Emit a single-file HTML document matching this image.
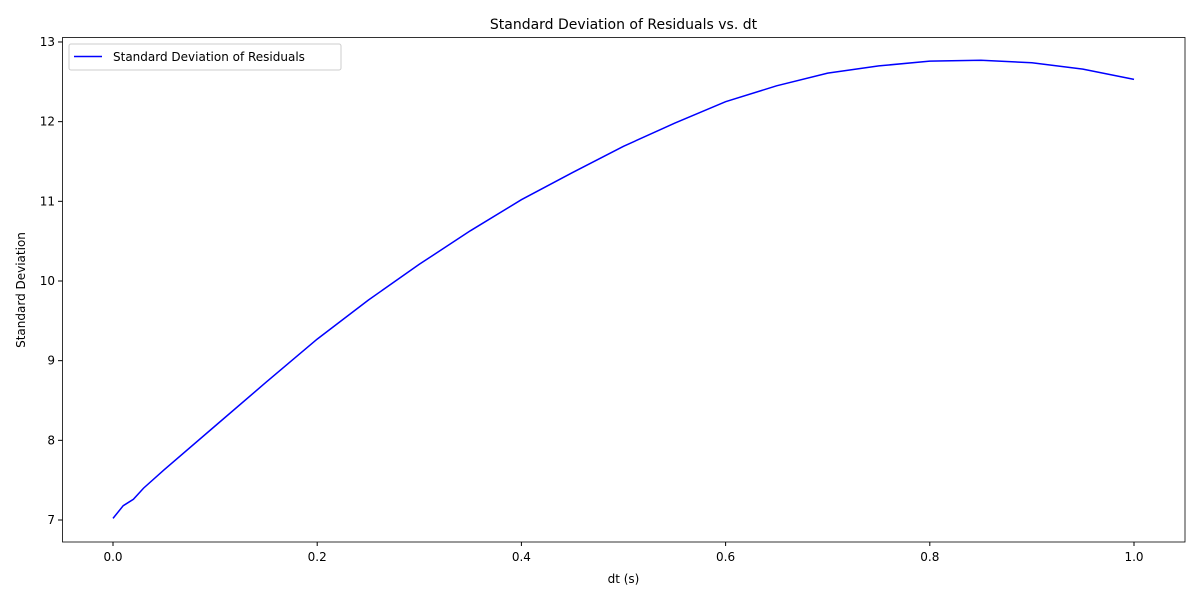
<!DOCTYPE html>
<html><head><meta charset="utf-8"><style>
body{margin:0;background:#fff;font-family:"Liberation Sans","DejaVu Sans",sans-serif;}
svg text{font-family:"DejaVu Sans","Liberation Sans",sans-serif;fill:#000;}
</style></head><body>
<svg id="chart" width="1200" height="600" xmlns="http://www.w3.org/2000/svg">
<rect x="0" y="0" width="1200" height="600" fill="#fff"/>
<text x="623.5" y="29" font-size="14" text-anchor="middle">Standard Deviation of Residuals vs. dt</text>
<g id="xticks"></g>
<g id="yticks"></g>
<text x="623.5" y="583" font-size="12" text-anchor="middle">dt (s)</text>
<text x="25" y="290" font-size="12" text-anchor="middle" transform="rotate(-90 25 290)">Standard Deviation</text>
<path id="series" fill="none" stroke="#0000ff" stroke-width="1.5"/>
<rect x="62.5" y="37.5" width="1122.5" height="504.5" fill="none" stroke="#000" stroke-width="0.8"/>
<g>
<rect x="69" y="44" width="272" height="26" rx="2" fill="#fff" stroke="#ccc" stroke-width="1"/>
<line x1="74" y1="56.5" x2="102" y2="56.5" stroke="#0000ff" stroke-width="1.5"/>
<text x="113" y="61" font-size="12">Standard Deviation of Residuals</text>
</g>
</svg>
<script>
const dtValues=[0,0.01,0.02,0.03,0.05,0.1,0.15,0.2,0.25,0.3,0.35,0.4,0.45,0.5,0.55,0.6,0.65,0.7,0.75,0.8,0.85,0.9,0.95,1.0];
const stdValues=[7.02,7.18,7.26,7.40,7.63,8.18,8.73,9.27,9.76,10.21,10.63,11.02,11.36,11.69,11.98,12.25,12.45,12.61,12.70,12.76,12.77,12.74,12.66,12.53];
const xTicks=[0.0,0.2,0.4,0.6,0.8,1.0];
const yTicks=[7,8,9,10,11,12,13];
function xs(v){return 113+1021*v;}
function ys(v){return 520-(v-7)*79.67;}
const NS="http://www.w3.org/2000/svg";
const xg=document.getElementById('xticks'),yg=document.getElementById('yticks');
xTicks.forEach(t=>{
 const l=document.createElementNS(NS,'line');
 
 
 l.setAttribute('x1',xs(t));l.setAttribute('x2',xs(t));l.setAttribute('y1',542);l.setAttribute('y2',546);l.setAttribute('stroke','#000');
 xg.appendChild(l);
 const tx=document.createElementNS(NS,'text');
 
 
 tx.setAttribute('x',xs(t));tx.setAttribute('y',561);tx.setAttribute('font-size','12');tx.setAttribute('text-anchor','middle');
 tx.textContent=t.toFixed(1);xg.appendChild(tx);
});
yTicks.forEach(t=>{
 const l=document.createElementNS(NS,'line');
 
 
 l.setAttribute('x1',58);l.setAttribute('x2',62.5);l.setAttribute('y1',ys(t));l.setAttribute('y2',ys(t));l.setAttribute('stroke','#000');
 yg.appendChild(l);
 const tx=document.createElementNS(NS,'text');
 
 
 tx.setAttribute('x',55);tx.setAttribute('y',ys(t)+4);tx.setAttribute('font-size','12');tx.setAttribute('text-anchor','end');
 tx.textContent=t;yg.appendChild(tx);
});
document.getElementById('series').setAttribute('d',dtValues.map((d,i)=>(i?'L':'M')+xs(d).toFixed(1)+' '+ys(stdValues[i]).toFixed(1)).join(' '));
</script>
</body></html>
